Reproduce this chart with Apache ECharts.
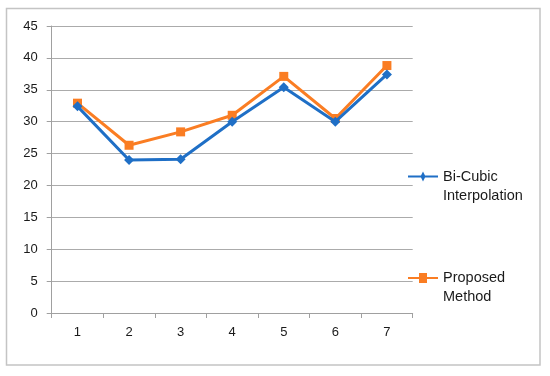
<!DOCTYPE html>
<html>
<head>
<meta charset="utf-8">
<script src="https://cdn.jsdelivr.net/npm/echarts@6/dist/echarts.min.js"></script>
<style>
html,body{margin:0;padding:0;background:#fff;}
#chart{width:550px;height:376px;}
</style>
</head>
<body>
<div id="chart"></div>
<script>
var categories = ['1', '2', '3', '4', '5', '6', '7'];
var bicubic = [32.4, 24.0, 24.1, 30.0, 35.4, 30.0, 37.4];
var proposed = [32.9, 26.3, 28.4, 31.0, 37.1, 30.5, 38.8];
var seriesNames = ['Bi-Cubic\nInterpolation', 'Proposed\nMethod'];

var chart = echarts.init(document.getElementById('chart'));
var font = 'Liberation Sans, Arial, sans-serif';
chart.setOption({
  animation: false,
  backgroundColor: '#ffffff',
  graphic: [{
    type: 'rect',
    shape: { x: 6.5, y: 8.5, width: 533.5, height: 356.5 },
    style: { fill: 'none', stroke: '#c4c4c4', lineWidth: 1.5 },
    silent: true
  }],
  grid: { left: 51.7, right: 137.3, top: 26, bottom: 63, containLabel: false },
  legend: {
    orient: 'vertical',
    left: 408,
    top: 148,
    padding: 0,
    itemWidth: 30,
    itemHeight: 10,
    itemGap: 44.6,
    selectedMode: false,
    formatter: function (name) { return '\u00a0\n' + name; },
    textStyle: { fontFamily: font, fontSize: 14.5, color: '#1a1a1a', lineHeight: 19 },
    data: [
      { name: seriesNames[0], icon: 'path://M0,4 L13,4 L15,0 L17,4 L30,4 L30,6 L17,6 L15,10 L13,6 L0,6 Z' },
      { name: seriesNames[1], icon: 'path://M0,4 L11,4 L11,0 L19,0 L19,4 L30,4 L30,6 L19,6 L19,10 L11,10 L11,6 L0,6 Z' }
    ]
  },
  xAxis: {
    type: 'category',
    data: categories,
    boundaryGap: true,
    axisLine: { show: true, lineStyle: { color: '#a0a0a0', width: 1 } },
    axisTick: { show: true, length: 5, lineStyle: { color: '#a0a0a0' } },
    axisLabel: { fontFamily: font, fontSize: 13, color: '#1a1a1a', margin: 13 },
    splitLine: { show: false }
  },
  yAxis: {
    type: 'value',
    min: 0,
    max: 45,
    interval: 5,
    axisLine: { show: true, lineStyle: { color: '#a0a0a0', width: 1 } },
    axisTick: { show: true, length: 5, lineStyle: { color: '#a0a0a0' } },
    axisLabel: { fontFamily: font, fontSize: 13, color: '#1a1a1a', margin: 14 },
    splitLine: { show: true, lineStyle: { color: '#ababab', width: 1 } }
  },
  series: [
    {
      name: seriesNames[0],
      type: 'line',
      data: bicubic,
      symbol: 'diamond',
      symbolSize: 10,
      itemStyle: { color: '#1f6fc6' },
      lineStyle: { color: '#1f6fc6', width: 3 },
      z: 3
    },
    {
      name: seriesNames[1],
      type: 'line',
      data: proposed,
      symbol: 'rect',
      symbolSize: 9,
      itemStyle: { color: '#fa7d23' },
      lineStyle: { color: '#fa7d23', width: 3 },
      z: 2
    }
  ]
});
</script>
</body>
</html>
